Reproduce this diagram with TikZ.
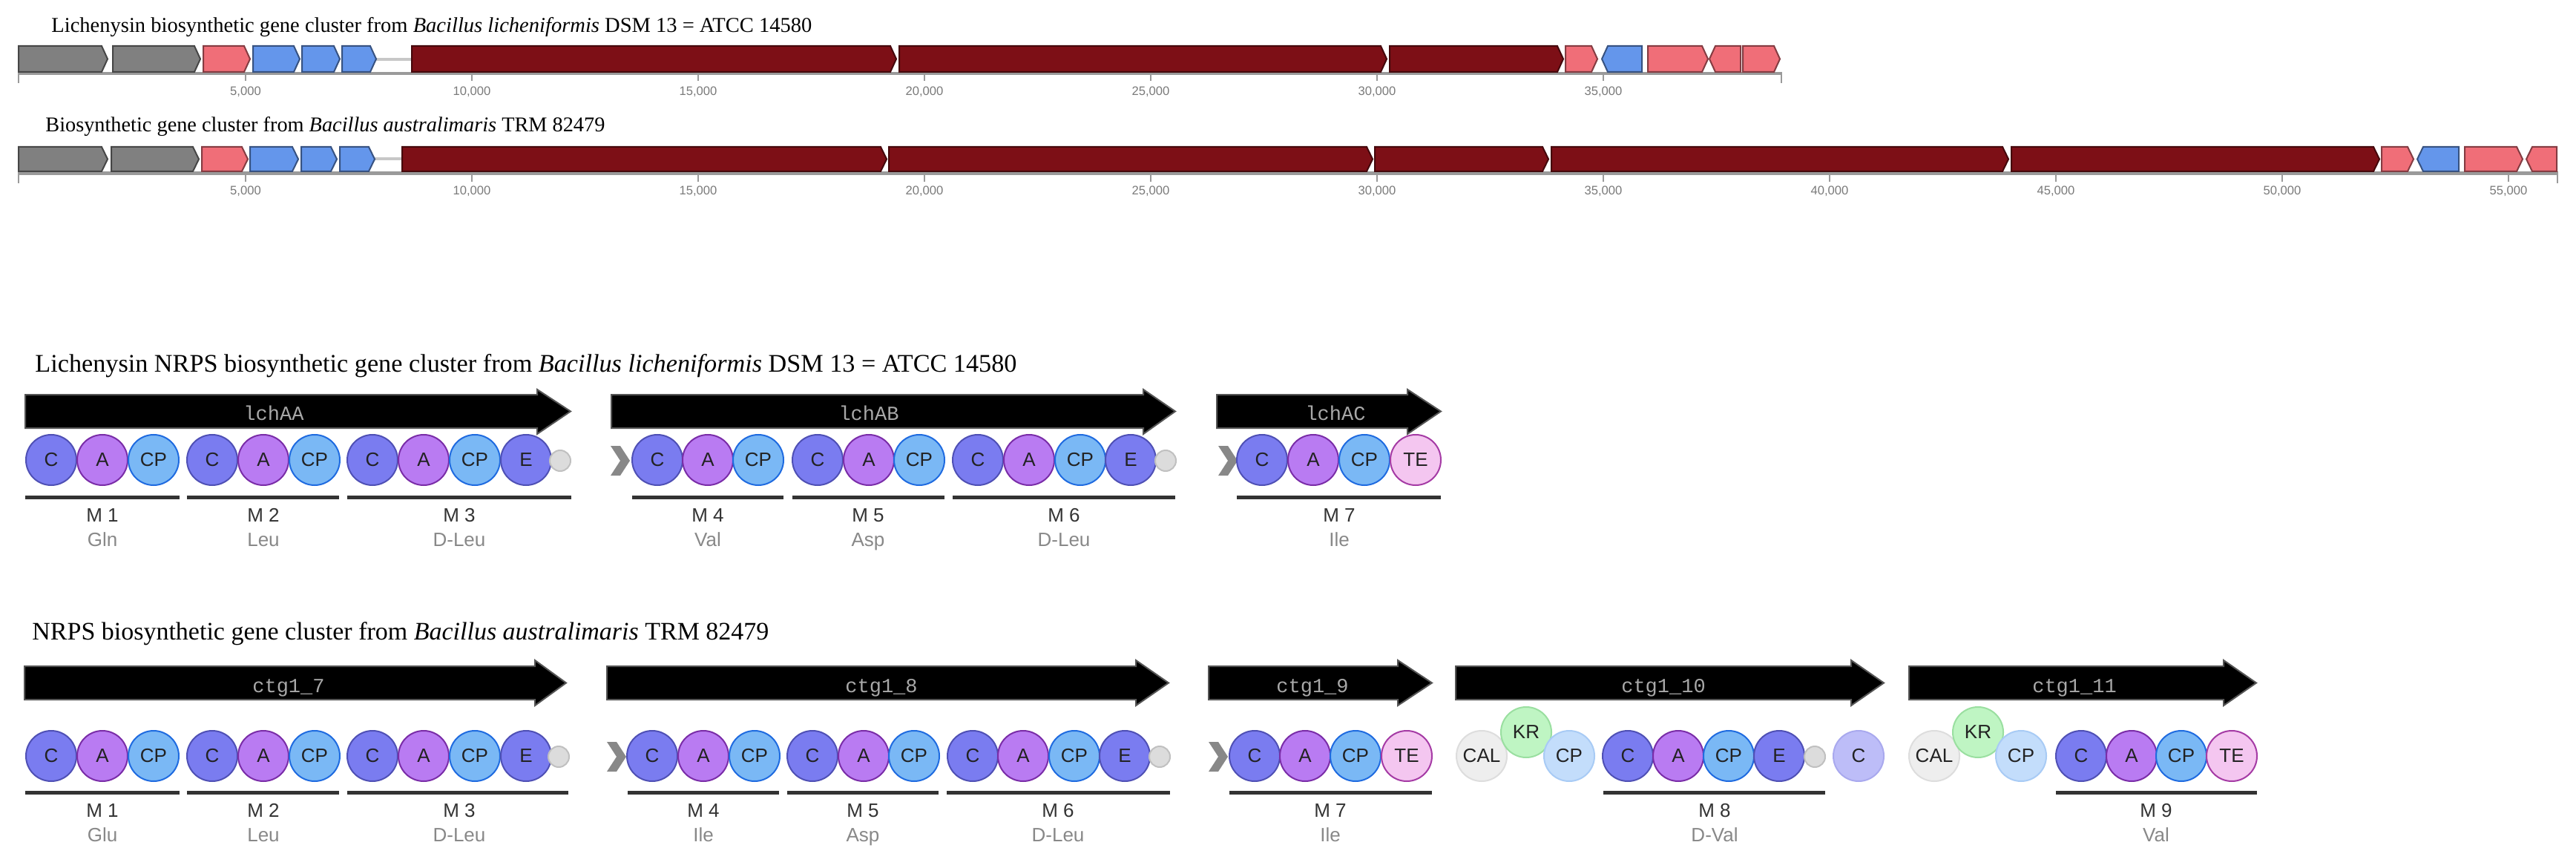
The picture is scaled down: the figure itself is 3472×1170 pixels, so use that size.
\documentclass[tikz,border=0pt]{standalone}
\usepackage{fontspec}
\setmainfont{Liberation Serif}
\setsansfont{Liberation Sans}
\setmonofont{Liberation Mono}
\usepackage{graphicx}
\definecolor{cC}{HTML}{7A7CF0}\definecolor{cCb}{HTML}{4F50B5}
\definecolor{cA}{HTML}{B97BF2}\definecolor{cAb}{HTML}{7A2DA8}
\definecolor{cCP}{HTML}{7AB8F5}\definecolor{cCPb}{HTML}{1F6BE0}
\definecolor{cTE}{HTML}{F4C6F0}\definecolor{cTEb}{HTML}{A53BA5}
\definecolor{cS}{HTML}{DCDCDC}\definecolor{cSb}{HTML}{C0C0C0}
\definecolor{cCAL}{HTML}{EEEEEE}\definecolor{cCALb}{HTML}{DDDDDD}
\definecolor{cKR}{HTML}{BFF5C3}\definecolor{cKRb}{HTML}{9ADFA0}
\definecolor{cCPl}{HTML}{C3DDFB}\definecolor{cCPlb}{HTML}{A8CBF5}
\definecolor{cCl}{HTML}{BDBDF8}\definecolor{cClb}{HTML}{A9A9EE}
\definecolor{gGray}{HTML}{808080}
\definecolor{gPink}{HTML}{F06E78}
\definecolor{gBlue}{HTML}{6496EB}
\definecolor{gRed}{HTML}{7D0F16}
\definecolor{axcol}{HTML}{9A9A9A}
\definecolor{tickcol}{HTML}{9A9A9A}
\definecolor{ticktxt}{HTML}{7A7A7A}
\definecolor{arredge}{HTML}{555555}
\definecolor{lblgray}{HTML}{A8A8A8}
\definecolor{barcol}{HTML}{333333}
\definecolor{mtext}{HTML}{333333}
\definecolor{aatext}{HTML}{888888}
\definecolor{chev}{HTML}{888888}
\definecolor{domtxt}{HTML}{222222}
\newcommand\putdom[5]{\node[#1] (#2) at (#3,#4) {#5};}
\newcommand\geneRt[5]{\filldraw[gene, fill=#5, draw=#5!55!black] (#1,#3) -- ({#2-8},#3) -- (#2,{(#3+#4)/2}) -- ({#2-8},#4) -- (#1,#4) -- cycle;}
\newcommand\geneLt[5]{\filldraw[gene, fill=#5, draw=#5!55!black] (#2,#3) -- ({#1+8},#3) -- (#1,{(#3+#4)/2}) -- ({#1+8},#4) -- (#2,#4) -- cycle;}
\newcommand\nrpsarr[7]{\filldraw[nrpsarrow] (#1,#4) -- (#2,#4) -- (#2,#6) -- (#3,{(#4+#5)/2}) -- (#2,#7) -- (#2,#5) -- (#1,#5) -- cycle;}
\newcommand\chevron[2]{\fill[chev] (#1,{#2-20}) -- ({#1+13},{#2-20}) -- ({#1+26},#2) -- ({#1+13},{#2+20}) -- (#1,{#2+20}) -- ({#1+13},#2) -- cycle;}
\begin{document}
\begin{tikzpicture}[x=0.5pt,y=-0.5pt,
  gene/.style={line width=1pt, line join=miter},
  nrpsarrow/.style={fill=black, draw=arredge, line width=1pt},
  dom/.style={circle, inner sep=0pt, minimum size=34pt, line width=1pt, text=domtxt, font=\sffamily\fontsize{13}{13}\selectfont},
  dC/.style={dom, fill=cC, draw=cCb},
  dA/.style={dom, fill=cA, draw=cAb},
  dCP/.style={dom, fill=cCP, draw=cCPb},
  dTE/.style={dom, fill=cTE, draw=cTEb},
  dS/.style={circle, inner sep=0pt, minimum size=14pt, line width=1pt, fill=cS, draw=cSb},
  dCAL/.style={dom, fill=cCAL, draw=cCALb},
  dKR/.style={dom, fill=cKR, draw=cKRb},
  dCPl/.style={dom, fill=cCPl, draw=cCPlb},
  dCl/.style={dom, fill=cCl, draw=cClb},
  genelbl/.style={anchor=base, inner sep=0pt, text=lblgray, font=\ttfamily\fontsize{13.5}{13.5}\selectfont},
  modbar/.style={draw=barcol, line width=2.5pt},
  modlbl/.style={anchor=base, inner sep=0pt, text=mtext, font=\sffamily\fontsize{13}{13}\selectfont},
  aalbl/.style={anchor=base, inner sep=0pt, text=aatext, font=\sffamily\fontsize{13}{13}\selectfont},
  axbar/.style={draw=axcol, line width=2.2pt},
  tickln/.style={draw=tickcol, line width=0.8pt},
  ticklbl/.style={inner sep=0pt, text=ticktxt, font=\sffamily\fontsize{8.3}{8.3}\selectfont},
  ttl/.style={anchor=base west, inner sep=0pt}
]
\useasboundingbox (0,0) rectangle (3472,1170);
\fill[white] (0,0) rectangle (3472,1170);

% ---------- titles ----------
\node[ttl] (title1) at (69,44) {\resizebox{512.5pt}{!}{Lichenysin biosynthetic gene cluster from \textit{Bacillus licheniformis} DSM 13 = ATCC 14580}};
\node[ttl] (title2) at (61,178) {\resizebox{377pt}{!}{Biosynthetic gene cluster from \textit{Bacillus australimaris} TRM 82479}};
\node[ttl] (title3) at (47,502) {\resizebox{661.5pt}{!}{Lichenysin NRPS biosynthetic gene cluster from \textit{Bacillus licheniformis} DSM 13 = ATCC 14580}};
\node[ttl] (title4) at (43,862) {\resizebox{496.5pt}{!}{NRPS biosynthetic gene cluster from \textit{Bacillus australimaris} TRM 82479}};

% ---------- track 1 ----------
\draw[axbar] (25,99) -- (2401,99);
\draw[tickln] (25,97) -- (25,112);
\draw[tickln] (2401,97) -- (2401,112);
\draw[draw=black!22, line width=1.6pt] (507,80) -- (555,80);
\geneRt{25}{145}{62}{97}{gGray}
\geneRt{152}{270}{62}{97}{gGray}
\geneRt{274}{337}{62}{97}{gPink}
\geneRt{341}{404}{62}{97}{gBlue}
\geneRt{407}{458}{62}{97}{gBlue}
\geneRt{461}{507}{62}{97}{gBlue}
\geneRt{555}{1208}{62}{97}{gRed}
\geneRt{1212}{1869}{62}{97}{gRed}
\geneRt{1873}{2107}{62}{97}{gRed}
\geneRt{2110}{2153}{62}{97}{gPink}
\geneLt{2159}{2213}{62}{97}{gBlue}
\geneRt{2221}{2302}{62}{97}{gPink}
\geneLt{2304}{2346}{62}{97}{gPink}
\geneRt{2349}{2399}{62}{97}{gPink}
\foreach \k/\lab in {1/5{,}000,2/10{,}000,3/15{,}000,4/20{,}000,5/25{,}000,6/30{,}000,7/35{,}000}{
  \draw[tickln] ({26+305*\k},101) -- ({26+305*\k},109);
  \node[ticklbl] (ta\k) at ({26+305*\k},124) {\lab};
}

% ---------- track 2 ----------
\draw[axbar] (25,233.5) -- (3447,233.5);
\draw[tickln] (25,231) -- (25,247);
\draw[tickln] (3447,231) -- (3447,247);
\draw[draw=black!22, line width=1.6pt] (505,214) -- (542,214);
\geneRt{25}{145}{198}{231}{gGray}
\geneRt{150}{268}{198}{231}{gGray}
\geneRt{272}{334}{198}{231}{gPink}
\geneRt{337}{402}{198}{231}{gBlue}
\geneRt{406}{454}{198}{231}{gBlue}
\geneRt{458}{505}{198}{231}{gBlue}
\geneRt{542}{1195}{198}{231}{gRed}
\geneRt{1198}{1850}{198}{231}{gRed}
\geneRt{1853}{2087}{198}{231}{gRed}
\geneRt{2091}{2707}{198}{231}{gRed}
\geneRt{2711}{3207}{198}{231}{gRed}
\geneRt{3210}{3253}{198}{231}{gPink}
\geneLt{3258}{3314}{198}{231}{gBlue}
\geneRt{3322}{3400}{198}{231}{gPink}
\geneLt{3405}{3446}{198}{231}{gPink}
\foreach \k/\lab in {1/5{,}000,2/10{,}000,3/15{,}000,4/20{,}000,5/25{,}000,6/30{,}000,7/35{,}000,8/40{,}000,9/45{,}000,10/50{,}000,11/55{,}000}{
  \draw[tickln] ({26+305*\k},236) -- ({26+305*\k},245);
  \node[ticklbl] (tb\k) at ({26+305*\k},258) {\lab};
}

% ---------- lichenysin NRPS ----------
\nrpsarr{34}{724}{769}{532}{577}{525}{585}
\node[genelbl] (gAA) at (369,567) {lchAA};
\nrpsarr{824}{1541}{1584}{532}{577}{525}{585}
\node[genelbl] (gAB) at (1171,567) {lchAB};
\nrpsarr{1640}{1897}{1942}{532}{577}{525}{585}
\node[genelbl] (gAC) at (1800,567) {lchAC};

\putdom{dC}{l1}{69}{620}{C}
\putdom{dA}{l2}{138}{620}{A}
\putdom{dCP}{l3}{207}{620}{CP}
\putdom{dC}{l4}{286}{620}{C}
\putdom{dA}{l5}{355}{620}{A}
\putdom{dCP}{l6}{424}{620}{CP}
\putdom{dC}{l7}{502}{620}{C}
\putdom{dA}{l8}{571}{620}{A}
\putdom{dCP}{l9}{640}{620}{CP}
\putdom{dC}{l10}{709}{620}{E}
\putdom{dS}{l11}{755}{621}{}
\chevron{823}{621}
\putdom{dC}{l12}{886}{620}{C}
\putdom{dA}{l13}{954}{620}{A}
\putdom{dCP}{l14}{1022}{620}{CP}
\putdom{dC}{l15}{1102}{620}{C}
\putdom{dA}{l16}{1171}{620}{A}
\putdom{dCP}{l17}{1239}{620}{CP}
\putdom{dC}{l18}{1318}{620}{C}
\putdom{dA}{l19}{1387}{620}{A}
\putdom{dCP}{l20}{1456}{620}{CP}
\putdom{dC}{l21}{1524}{620}{E}
\putdom{dS}{l22}{1571}{621}{}
\chevron{1642}{621}
\putdom{dC}{l23}{1701}{620}{C}
\putdom{dA}{l24}{1770}{620}{A}
\putdom{dCP}{l25}{1839}{620}{CP}
\putdom{dTE}{l26}{1908}{620}{TE}

\draw[modbar] (34,670) -- (242,670);
\draw[modbar] (252,670) -- (457,670);
\draw[modbar] (468,670) -- (770,670);
\draw[modbar] (852,670) -- (1056,670);
\draw[modbar] (1068,670) -- (1273,670);
\draw[modbar] (1284,670) -- (1584,670);
\draw[modbar] (1667,670) -- (1942,670);
\foreach \n/\x/\m/\aa in {1/138/M 1/Gln,2/355/M 2/Leu,3/619/M 3/D-Leu,4/954/M 4/Val,5/1170/M 5/Asp,6/1434/M 6/D-Leu,7/1805/M 7/Ile}{
  \node[modlbl] (lm\n) at (\x,703) {\m};
  \node[aalbl] (la\n) at (\x,736) {\aa};
}

% ---------- australimaris NRPS ----------
\nrpsarr{33}{721}{763}{898}{943}{890}{951}
\node[genelbl] (g7) at (389,933) {ctg1\_7};
\nrpsarr{818}{1531}{1575}{898}{943}{890}{951}
\node[genelbl] (g8) at (1188,933) {ctg1\_8};
\nrpsarr{1629}{1884}{1930}{898}{943}{890}{951}
\node[genelbl] (g9) at (1769,933) {ctg1\_9};
\nrpsarr{1962}{2495}{2539}{898}{943}{890}{951}
\node[genelbl] (g10) at (2242,933) {ctg1\_10};
\nrpsarr{2573}{2997}{3041}{898}{943}{890}{951}
\node[genelbl] (g11) at (2796,933) {ctg1\_11};

\putdom{dC}{b1}{69}{1019}{C}
\putdom{dA}{b2}{138}{1019}{A}
\putdom{dCP}{b3}{207}{1019}{CP}
\putdom{dC}{b4}{286}{1019}{C}
\putdom{dA}{b5}{355}{1019}{A}
\putdom{dCP}{b6}{424}{1019}{CP}
\putdom{dC}{b7}{502}{1019}{C}
\putdom{dA}{b8}{571}{1019}{A}
\putdom{dCP}{b9}{640}{1019}{CP}
\putdom{dC}{b10}{709}{1019}{E}
\putdom{dS}{b11}{753}{1020}{}
\chevron{818}{1020}
\putdom{dC}{b12}{879}{1019}{C}
\putdom{dA}{b13}{948}{1019}{A}
\putdom{dCP}{b14}{1017}{1019}{CP}
\putdom{dC}{b15}{1095}{1019}{C}
\putdom{dA}{b16}{1164}{1019}{A}
\putdom{dCP}{b17}{1232}{1019}{CP}
\putdom{dC}{b18}{1311}{1019}{C}
\putdom{dA}{b19}{1379}{1019}{A}
\putdom{dCP}{b20}{1448}{1019}{CP}
\putdom{dC}{b21}{1516}{1019}{E}
\putdom{dS}{b22}{1563}{1020}{}
\chevron{1629}{1020}
\putdom{dC}{b23}{1691}{1019}{C}
\putdom{dA}{b24}{1759}{1019}{A}
\putdom{dCP}{b25}{1827}{1019}{CP}
\putdom{dTE}{b26}{1896}{1019}{TE}
\putdom{dCAL}{b27}{1997}{1019}{CAL}
\putdom{dKR}{b28}{2057}{987}{KR}
\putdom{dCPl}{b29}{2115}{1019}{CP}
\putdom{dC}{b30}{2194}{1019}{C}
\putdom{dA}{b31}{2262}{1019}{A}
\putdom{dCP}{b32}{2330}{1019}{CP}
\putdom{dC}{b33}{2398}{1019}{E}
\putdom{dS}{b34}{2446}{1020}{}
\putdom{dCl}{b35}{2505}{1019}{C}
\putdom{dCAL}{b36}{2607}{1019}{CAL}
\putdom{dKR}{b37}{2666}{987}{KR}
\putdom{dCPl}{b38}{2724}{1019}{CP}
\putdom{dC}{b39}{2805}{1019}{C}
\putdom{dA}{b40}{2873}{1019}{A}
\putdom{dCP}{b41}{2940}{1019}{CP}
\putdom{dTE}{b42}{3008}{1019}{TE}

\draw[modbar] (34,1068) -- (242,1068);
\draw[modbar] (252,1068) -- (457,1068);
\draw[modbar] (468,1068) -- (766,1068);
\draw[modbar] (846,1068) -- (1050,1068);
\draw[modbar] (1061,1068) -- (1265,1068);
\draw[modbar] (1276,1068) -- (1577,1068);
\draw[modbar] (1657,1068) -- (1930,1068);
\draw[modbar] (2161,1068) -- (2460,1068);
\draw[modbar] (2771,1068) -- (3042,1068);
\foreach \n/\x/\m/\aa in {1/138/M 1/Glu,2/355/M 2/Leu,3/619/M 3/D-Leu,4/948/M 4/Ile,5/1163/M 5/Asp,6/1426/M 6/D-Leu,7/1793/M 7/Ile,8/2311/M 8/D-Val,9/2906/M 9/Val}{
  \node[modlbl] (bm\n) at (\x,1101) {\m};
  \node[aalbl] (ba\n) at (\x,1134) {\aa};
}
\end{tikzpicture}
\end{document}
